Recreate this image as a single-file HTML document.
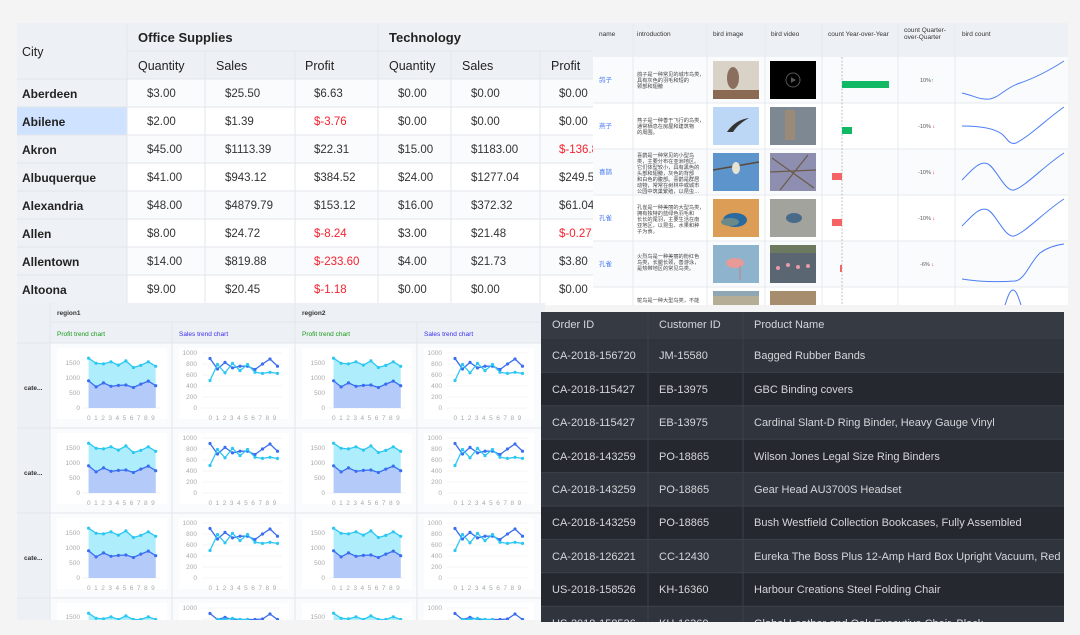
<!DOCTYPE html>
<html><head><meta charset="utf-8"><style>
html,body{margin:0;padding:0;background:#f4f4f5;width:1080px;height:635px;overflow:hidden;}
svg{display:block;font-family:"Liberation Sans","Noto Sans CJK SC",sans-serif;}
.h{font-size:12.5px;fill:#222;}
.hb{font-size:13px;fill:#222;font-weight:bold;}
.c{font-size:12px;fill:#222;font-weight:bold;}
.d{font-size:11.5px;fill:#333;}
.r{font-size:11.5px;fill:#f5222d;}
.t7{font-size:6.5px;fill:#333;}
.ax{font-size:6.5px;fill:#aaa;}
.k{font-size:11px;fill:#d4d6da;}
</style></head><body>
<svg width="1080" height="635" viewBox="0 0 1080 635" xmlns="http://www.w3.org/2000/svg">
<defs>
<marker id="mc" markerWidth="4" markerHeight="4" refX="2" refY="2" markerUnits="userSpaceOnUse"><circle cx="2" cy="2" r="1.6" fill="#2cc7f2"/></marker>
<marker id="md" markerWidth="4" markerHeight="4" refX="2" refY="2" markerUnits="userSpaceOnUse"><circle cx="2" cy="2" r="1.6" fill="#3a6ef0"/></marker>
<clipPath id="cp3"><rect x="17" y="303" width="528" height="317"/></clipPath>
<clipPath id="cp2"><rect x="593" y="23" width="475" height="282"/></clipPath>
<clipPath id="cp4"><rect x="541" y="312" width="523" height="310"/></clipPath>
<g id="pc">
<rect x="7" y="5" width="110" height="71" fill="#fff"/>
<line x1="32" y1="65" x2="110" y2="65" stroke="#e8e8e8" stroke-width="0.6"/>
<polygon points="38.6,65 38.6,15.2 46.1,20.3 53.5,20.9 61,18.8 68.4,22.1 75.9,17.9 83.4,24.5 90.8,22.4 98.3,18.8 105.7,23.3 105.7,65" fill="#aeeefc"/>
<polygon points="38.6,65 38.6,37.8 46.1,43.9 53.5,39.9 61,43.3 68.4,42.4 75.9,42 83.4,44.5 90.8,41.1 98.3,38.1 105.7,42.7 105.7,65" fill="#b4cbfa"/>
<polyline points="38.6,15.2 46.1,20.3 53.5,20.9 61,18.8 68.4,22.1 75.9,17.9 83.4,24.5 90.8,22.4 98.3,18.8 105.7,23.3" fill="none" stroke="#2cc7f2" stroke-width="1.3" marker-start="url(#mc)" marker-mid="url(#mc)" marker-end="url(#mc)"/>
<polyline points="38.6,37.8 46.1,43.9 53.5,39.9 61,43.3 68.4,42.4 75.9,42 83.4,44.5 90.8,41.1 98.3,38.1 105.7,42.7" fill="none" stroke="#3a6ef0" stroke-width="1.3" marker-start="url(#md)" marker-mid="url(#md)" marker-end="url(#md)"/>
</g>
<g id="sc">
<rect x="7" y="5" width="110" height="71" fill="#fff"/>
<g stroke="#eeeeee" stroke-width="0.6"><line x1="30" y1="10" x2="110" y2="10"/><line x1="30" y1="21" x2="110" y2="21"/><line x1="30" y1="32" x2="110" y2="32"/><line x1="30" y1="43" x2="110" y2="43"/><line x1="30" y1="54" x2="110" y2="54"/><line x1="30" y1="65" x2="110" y2="65"/></g>
<polyline points="38,15.5 45.5,26 53,19.4 60.5,24.9 68,23.2 75.5,23.2 83,26.5 90.5,21 98,16 105.5,23.2" fill="none" stroke="#3a6ef0" stroke-width="1.3" marker-start="url(#md)" marker-mid="url(#md)" marker-end="url(#md)"/>
<polyline points="38,37.5 45.5,21.5 53,29.8 60.5,20.4 68,27.6 75.5,21.5 83,29.3 90.5,30.4 98,29.3 105.5,30.4" fill="none" stroke="#2cc7f2" stroke-width="1.3" marker-start="url(#mc)" marker-mid="url(#mc)" marker-end="url(#mc)"/>
</g>
<g id="pc4">
<rect x="7" y="5" width="110" height="17" fill="#fff"/>
<polygon points="38.6,22 38.6,15.2 46.1,20.3 53.5,20.9 61,18.8 68.4,21.5 75.9,17.9 83.4,21.5 90.8,21.5 98.3,18.8 105.7,21.5 105.7,22" fill="#aeeefc"/>
<polyline points="38.6,15.2 46.1,20.3 53.5,20.9 61,18.8 68.4,21.5 75.9,17.9 83.4,21.5 90.8,21.5 98.3,18.8 105.7,21.5" fill="none" stroke="#2cc7f2" stroke-width="1.3" marker-start="url(#mc)" marker-mid="url(#mc)" marker-end="url(#mc)"/>
</g>
<g id="sc4">
<rect x="7" y="5" width="110" height="17" fill="#fff"/>
<g stroke="#eeeeee" stroke-width="0.6"><line x1="30" y1="10" x2="110" y2="10"/><line x1="30" y1="21" x2="110" y2="21"/></g>
<polyline points="38,15.5 45.5,21.5 53,19.4 60.5,21.5 68,21.5 75.5,21.5 83,21.5 90.5,21 98,16 105.5,21.5" fill="none" stroke="#3a6ef0" stroke-width="1.3" marker-start="url(#md)" marker-mid="url(#md)" marker-end="url(#md)"/>
<polyline points="45.5,21.5 53,21.5 60.5,20.4 68,21.5 75.5,21.5" fill="none" stroke="#2cc7f2" stroke-width="1.3" marker-start="url(#mc)" marker-mid="url(#mc)" marker-end="url(#mc)"/>
</g>
</defs>

<!-- PANEL 1 -->
<rect x="17" y="23" width="576" height="282" fill="#fff"/>
<rect x="17" y="23" width="576" height="56" fill="#edf1f5"/>
<rect x="17" y="79" width="110" height="226" fill="#eef2f6"/>
<rect x="17" y="107" width="110" height="28" fill="#cfe2ff"/>
<g fill="#fafbfc"><rect x="127" y="79" width="466" height="28"/><rect x="127" y="135" width="466" height="28"/><rect x="127" y="191" width="466" height="28"/><rect x="127" y="247" width="466" height="28"/></g>
<g stroke="#e2e6ec" stroke-width="1">
<line x1="127" y1="51" x2="593" y2="51"/>
<line x1="17" y1="79" x2="593" y2="79"/><line x1="17" y1="107" x2="593" y2="107"/><line x1="17" y1="135" x2="593" y2="135"/><line x1="17" y1="163" x2="593" y2="163"/><line x1="17" y1="191" x2="593" y2="191"/><line x1="17" y1="219" x2="593" y2="219"/><line x1="17" y1="247" x2="593" y2="247"/><line x1="17" y1="275" x2="593" y2="275"/>
<line x1="127" y1="23" x2="127" y2="305"/><line x1="378" y1="23" x2="378" y2="305"/>
<line x1="205" y1="51" x2="205" y2="305"/><line x1="295" y1="51" x2="295" y2="305"/><line x1="451" y1="51" x2="451" y2="305"/><line x1="540" y1="51" x2="540" y2="305"/>
</g>
<text class="h" x="22" y="56">City</text>
<text class="hb" x="138" y="42">Office Supplies</text>
<text class="hb" x="389" y="42">Technology</text>
<text class="h" x="138" y="70">Quantity</text><text class="h" x="216" y="70">Sales</text><text class="h" x="305" y="70">Profit</text>
<text class="h" x="389" y="70">Quantity</text><text class="h" x="462" y="70">Sales</text><text class="h" x="551" y="70">Profit</text>
<g class="c"><text x="22" y="98">Aberdeen</text><text x="22" y="126">Abilene</text><text x="22" y="154">Akron</text><text x="22" y="182">Albuquerque</text><text x="22" y="210">Alexandria</text><text x="22" y="238">Allen</text><text x="22" y="266">Allentown</text><text x="22" y="294">Altoona</text></g>
<g class="d">
<text x="147" y="97">$3.00</text><text x="225" y="97">$25.50</text><text x="314" y="97">$6.63</text><text x="398" y="97">$0.00</text><text x="471" y="97">$0.00</text><text x="559" y="97">$0.00</text>
<text x="147" y="125">$2.00</text><text x="225" y="125">$1.39</text><text class="r" x="314" y="125">$-3.76</text><text x="398" y="125">$0.00</text><text x="471" y="125">$0.00</text><text x="559" y="125">$0.00</text>
<text x="147" y="153">$45.00</text><text x="225" y="153">$1113.39</text><text x="314" y="153">$22.31</text><text x="398" y="153">$15.00</text><text x="471" y="153">$1183.00</text><text class="r" x="559" y="153">$-136.8</text>
<text x="147" y="181">$41.00</text><text x="225" y="181">$943.12</text><text x="314" y="181">$384.52</text><text x="398" y="181">$24.00</text><text x="471" y="181">$1277.04</text><text x="559" y="181">$249.5</text>
<text x="147" y="209">$48.00</text><text x="225" y="209">$4879.79</text><text x="314" y="209">$153.12</text><text x="398" y="209">$16.00</text><text x="471" y="209">$372.32</text><text x="559" y="209">$61.04</text>
<text x="147" y="237">$8.00</text><text x="225" y="237">$24.72</text><text class="r" x="314" y="237">$-8.24</text><text x="398" y="237">$3.00</text><text x="471" y="237">$21.48</text><text class="r" x="559" y="237">$-0.27</text>
<text x="147" y="265">$14.00</text><text x="225" y="265">$819.88</text><text class="r" x="314" y="265">$-233.60</text><text x="398" y="265">$4.00</text><text x="471" y="265">$21.73</text><text x="559" y="265">$3.80</text>
<text x="147" y="293">$9.00</text><text x="225" y="293">$20.45</text><text class="r" x="314" y="293">$-1.18</text><text x="398" y="293">$0.00</text><text x="471" y="293">$0.00</text><text x="559" y="293">$0.00</text>
</g>

<!-- PANEL 2 -->
<g clip-path="url(#cp2)">
<rect x="593" y="23" width="475" height="282" fill="#fff"/>
<rect x="593" y="23" width="475" height="34" fill="#edf1f5"/>
<g fill="#fafbfc"><rect x="593" y="57" width="475" height="46"/><rect x="593" y="149" width="475" height="46"/><rect x="593" y="241" width="475" height="46"/></g>
<g stroke="#e6e9ee"><line x1="593" y1="103" x2="1068" y2="103"/><line x1="593" y1="149" x2="1068" y2="149"/><line x1="593" y1="195" x2="1068" y2="195"/><line x1="593" y1="241" x2="1068" y2="241"/><line x1="593" y1="287" x2="1068" y2="287"/>
<line x1="633" y1="23" x2="633" y2="305"/><line x1="707" y1="23" x2="707" y2="305"/><line x1="765" y1="23" x2="765" y2="305"/><line x1="822" y1="23" x2="822" y2="305"/><line x1="898" y1="23" x2="898" y2="305"/><line x1="955" y1="23" x2="955" y2="305"/></g>
<g class="t7"><text x="599" y="36">name</text><text x="637" y="36">introduction</text><text x="713" y="36">bird image</text><text x="771" y="36">bird video</text><text x="828" y="36">count Year-over-Year</text><text x="904" y="32">count Quarter-</text><text x="904" y="39">over-Quarter</text><text x="962" y="36">bird count</text></g>
<g font-size="6.5" fill="#4a7cf0"><text x="599" y="82">鸽子</text><text x="599" y="128">燕子</text><text x="599" y="174">喜鹊</text><text x="599" y="220">孔雀</text><text x="599" y="266">孔雀</text></g>
<g font-size="5.2" fill="#444">
<text x="637" y="76">鸽子是一种常见的城市鸟类，</text><text x="637" y="82">具有灰色的羽毛和短的</text><text x="637" y="88">颈部和翅膀</text>
<text x="637" y="122">燕子是一种善于飞行的鸟类，</text><text x="637" y="128">通常栖息在房屋和建筑物</text><text x="637" y="134">的周围。</text>
<text x="637" y="157">喜鹊是一种常见的小型鸟</text><text x="637" y="163">类，主要分布在亚洲地区。</text><text x="637" y="169">它们体型较小，具有黑色的</text><text x="637" y="175">头部和翅膀，灰色的背部</text><text x="637" y="181">和白色的腹部。喜鹊是群居</text><text x="637" y="187">动物，常常在树林中或城市</text><text x="637" y="193">公园中筑巢繁殖，以昆虫…</text>
<text x="637" y="209">孔雀是一种美丽的大型鸟类，</text><text x="637" y="215">拥有独特的蓝绿色羽毛和</text><text x="637" y="221">长长的尾羽，主要生活在南</text><text x="637" y="227">亚地区，以昆虫、水果和种</text><text x="637" y="233">子为食。</text>
<text x="637" y="258">火烈鸟是一种美丽的粉红色</text><text x="637" y="264">鸟类，长腿长颈，善游泳，</text><text x="637" y="270">是热带地区的常见鸟类。</text>
<text x="637" y="302">鸵鸟是一种大型鸟类，不能</text>
</g>
<rect x="713" y="61" width="46" height="38" fill="#d9d2c6"/><ellipse cx="733" cy="78" rx="6" ry="11" fill="#8a6e5e"/><rect x="713" y="90" width="46" height="9" fill="#8a6a52"/>
<rect x="770" y="61" width="46" height="38" fill="#000"/><circle cx="793" cy="80" r="7" fill="none" stroke="#555" stroke-width="1"/><polygon points="791,77 791,83 796,80" fill="#555"/>
<rect x="713" y="107" width="46" height="38" fill="#bcd6f5"/><path d="M727,132 Q735,120 749,118 Q738,124 733,132 Z" fill="#333"/>
<rect x="770" y="107" width="46" height="38" fill="#7d8893"/><rect x="785" y="110" width="10" height="30" fill="#9a8a76"/>
<rect x="713" y="153" width="46" height="38" fill="#5d94cc"/><line x1="713" y1="170" x2="759" y2="162" stroke="#5a4a3a" stroke-width="1.5"/><ellipse cx="736" cy="168" rx="4" ry="6" fill="#e8e2d0"/>
<rect x="770" y="153" width="46" height="38" fill="#8e8fb0"/><path d="M772,158 L814,188 M780,190 L808,155 M770,172 L816,170" stroke="#6a5a48" stroke-width="1.2"/>
<rect x="713" y="199" width="46" height="38" fill="#dc9e56"/><ellipse cx="735" cy="220" rx="12" ry="7" fill="#2a6aa0"/><ellipse cx="730" cy="222" rx="9" ry="4" fill="#6a8a8a"/>
<rect x="770" y="199" width="46" height="38" fill="#a3a39d"/><ellipse cx="794" cy="218" rx="8" ry="5" fill="#4a6a8a"/>
<rect x="713" y="245" width="46" height="38" fill="#8db4cc"/><ellipse cx="735" cy="263" rx="9" ry="5" fill="#e89a98"/><line x1="740" y1="266" x2="740" y2="280" stroke="#c77" stroke-width="0.8"/>
<rect x="770" y="245" width="46" height="38" fill="#5a6672"/><rect x="770" y="245" width="46" height="8" fill="#6d7a60"/><g fill="#e99aa8"><circle cx="778" cy="268" r="2"/><circle cx="788" cy="265" r="2"/><circle cx="798" cy="267" r="2"/><circle cx="808" cy="266" r="2"/></g>
<rect x="713" y="291" width="46" height="14" fill="#b5ad95"/><rect x="713" y="291" width="46" height="5" fill="#8fa7b5"/>
<rect x="770" y="291" width="46" height="14" fill="#a58d6e"/>
<line x1="842" y1="57" x2="842" y2="305" stroke="#999" stroke-width="0.6" stroke-dasharray="2,1.5"/>
<rect x="842" y="81" width="47" height="7" fill="#12b965"/>
<rect x="842" y="127" width="10" height="7" fill="#12b965"/>
<rect x="832" y="173" width="10" height="7" fill="#f46464"/>
<rect x="832" y="219" width="10" height="7" fill="#f46464"/>
<rect x="840" y="265" width="2" height="7" fill="#f46464"/>
<g font-size="5.5" fill="#555"><text x="920" y="82">10%<tspan fill="#12b965">↑</tspan></text><text x="918" y="128">-10% <tspan fill="#f22">↓</tspan></text><text x="918" y="174">-10% <tspan fill="#f22">↓</tspan></text><text x="918" y="220">-10% <tspan fill="#f22">↓</tspan></text><text x="920" y="266">-6% <tspan fill="#f22">↓</tspan></text></g>
<g fill="none" stroke="#4d7ef2" stroke-width="1">
<path d="M962,93 C975,96 980,100 990,99 C1000,97 1005,88 1020,83 C1035,78 1050,70 1064,61"/>
<path d="M962,126 C980,126 995,128 1003,135 C1008,140 1010,145 1016,143 C1030,136 1048,118 1064,107"/>
<path d="M962,180 C972,170 980,160 988,164 C996,168 1005,192 1014,190 C1025,187 1045,165 1064,153"/>
<path d="M962,226 C972,216 980,206 988,210 C996,214 1005,238 1014,236 C1025,233 1045,211 1064,199"/>
<path d="M962,279 C980,282 1000,282 1015,281 C1025,280 1030,262 1040,253 C1048,247 1056,245 1064,244"/>
<path d="M1005,305 C1008,296 1010,290 1013,290 C1016,290 1018,296 1021,305"/>
</g>
</g>

<!-- PANEL 3 -->
<g clip-path="url(#cp3)">
<rect x="17" y="303" width="528" height="317" fill="#fafbfc"/>
<rect x="17" y="303" width="528" height="40" fill="#edf1f5"/>
<rect x="17" y="303" width="33" height="317" fill="#edf1f5"/>
<g stroke="#e2e6ec"><line x1="50" y1="322" x2="545" y2="322"/><line x1="17" y1="343" x2="545" y2="343"/><line x1="17" y1="428" x2="545" y2="428"/><line x1="17" y1="513" x2="545" y2="513"/><line x1="17" y1="598" x2="545" y2="598"/><line x1="50" y1="303" x2="50" y2="620"/><line x1="295" y1="303" x2="295" y2="620"/><line x1="172" y1="322" x2="172" y2="620"/><line x1="417" y1="322" x2="417" y2="620"/></g>
<g font-size="6.5" font-weight="bold" fill="#333"><text x="57" y="315">region1</text><text x="302" y="315">region2</text><text x="24" y="390">cate...</text><text x="24" y="475">cate...</text><text x="24" y="560">cate...</text></g>
<g font-size="6.5"><text x="57" y="336" fill="#1a9a1a">Profit trend chart</text><text x="179" y="336" fill="#3a2cf0">Sales trend chart</text><text x="302" y="336" fill="#1a9a1a">Profit trend chart</text><text x="424" y="336" fill="#3a2cf0">Sales trend chart</text></g>
<use href="#pc" x="50" y="343"/><use href="#sc" x="172" y="343"/><use href="#pc" x="295" y="343"/><use href="#sc" x="417" y="343"/>
<use href="#pc" x="50" y="428"/><use href="#sc" x="172" y="428"/><use href="#pc" x="295" y="428"/><use href="#sc" x="417" y="428"/>
<use href="#pc" x="50" y="513"/><use href="#sc" x="172" y="513"/><use href="#pc" x="295" y="513"/><use href="#sc" x="417" y="513"/>
<use href="#pc4" x="50" y="598"/><use href="#sc4" x="172" y="598"/><use href="#pc4" x="295" y="598"/><use href="#sc4" x="417" y="598"/>
<g class="ax" text-anchor="end">
<text x="80" y="365">1500</text><text x="80" y="380">1000</text><text x="80" y="395">500</text><text x="80" y="410">0</text>
<text x="325" y="365">1500</text><text x="325" y="380">1000</text><text x="325" y="395">500</text><text x="325" y="410">0</text>
<text x="80" y="450">1500</text><text x="80" y="465">1000</text><text x="80" y="480">500</text><text x="80" y="495">0</text>
<text x="325" y="450">1500</text><text x="325" y="465">1000</text><text x="325" y="480">500</text><text x="325" y="495">0</text>
<text x="80" y="535">1500</text><text x="80" y="550">1000</text><text x="80" y="565">500</text><text x="80" y="580">0</text>
<text x="325" y="535">1500</text><text x="325" y="550">1000</text><text x="325" y="565">500</text><text x="325" y="580">0</text>
<text x="80" y="619">1500</text><text x="325" y="619">1500</text>
<text x="197" y="355">1000</text><text x="197" y="366">800</text><text x="197" y="377">600</text><text x="197" y="388">400</text><text x="197" y="399">200</text><text x="197" y="410">0</text>
<text x="442" y="355">1000</text><text x="442" y="366">800</text><text x="442" y="377">600</text><text x="442" y="388">400</text><text x="442" y="399">200</text><text x="442" y="410">0</text>
<text x="197" y="440">1000</text><text x="197" y="451">800</text><text x="197" y="462">600</text><text x="197" y="473">400</text><text x="197" y="484">200</text><text x="197" y="495">0</text>
<text x="442" y="440">1000</text><text x="442" y="451">800</text><text x="442" y="462">600</text><text x="442" y="473">400</text><text x="442" y="484">200</text><text x="442" y="495">0</text>
<text x="197" y="525">1000</text><text x="197" y="536">800</text><text x="197" y="547">600</text><text x="197" y="558">400</text><text x="197" y="569">200</text><text x="197" y="580">0</text>
<text x="442" y="525">1000</text><text x="442" y="536">800</text><text x="442" y="547">600</text><text x="442" y="558">400</text><text x="442" y="569">200</text><text x="442" y="580">0</text>
<text x="197" y="610">1000</text><text x="442" y="610">1000</text>
</g>
<g class="ax" word-spacing="1.7">
<text x="87" y="420">0 1 2 3 4 5 6 7 8 9</text><text x="332" y="420">0 1 2 3 4 5 6 7 8 9</text><text x="208.5" y="420">0 1 2 3 4 5 6 7 8 9</text><text x="453.5" y="420">0 1 2 3 4 5 6 7 8 9</text>
<text x="87" y="505">0 1 2 3 4 5 6 7 8 9</text><text x="332" y="505">0 1 2 3 4 5 6 7 8 9</text><text x="208.5" y="505">0 1 2 3 4 5 6 7 8 9</text><text x="453.5" y="505">0 1 2 3 4 5 6 7 8 9</text>
<text x="87" y="590">0 1 2 3 4 5 6 7 8 9</text><text x="332" y="590">0 1 2 3 4 5 6 7 8 9</text><text x="208.5" y="590">0 1 2 3 4 5 6 7 8 9</text><text x="453.5" y="590">0 1 2 3 4 5 6 7 8 9</text>
</g>
</g>

<!-- PANEL 4 -->
<g clip-path="url(#cp4)">
<rect x="541" y="312" width="523" height="310" fill="#2b2e35"/>
<rect x="541" y="312" width="523" height="27" fill="#363a43"/>
<g fill="#30343c"><rect x="541" y="339" width="523" height="33.4"/><rect x="541" y="405.8" width="523" height="33.4"/><rect x="541" y="472.6" width="523" height="33.4"/><rect x="541" y="539.4" width="523" height="33.4"/><rect x="541" y="606.2" width="523" height="15.8"/></g>
<g fill="#25282e"><rect x="541" y="372.4" width="523" height="33.4"/><rect x="541" y="439.2" width="523" height="33.4"/><rect x="541" y="506" width="523" height="33.4"/><rect x="541" y="572.8" width="523" height="33.4"/></g>
<g stroke="#3d414a"><line x1="648" y1="312" x2="648" y2="622"/><line x1="743" y1="312" x2="743" y2="622"/>
<line x1="541" y1="372.4" x2="1064" y2="372.4"/><line x1="541" y1="405.8" x2="1064" y2="405.8"/><line x1="541" y1="439.2" x2="1064" y2="439.2"/><line x1="541" y1="472.6" x2="1064" y2="472.6"/><line x1="541" y1="506" x2="1064" y2="506"/><line x1="541" y1="539.4" x2="1064" y2="539.4"/><line x1="541" y1="572.8" x2="1064" y2="572.8"/><line x1="541" y1="606.2" x2="1064" y2="606.2"/></g>
<g class="k">
<text x="552" y="328">Order ID</text><text x="659" y="328">Customer ID</text><text x="754" y="328">Product Name</text>
<text x="552" y="359">CA-2018-156720</text><text x="659" y="359">JM-15580</text><text x="754" y="359">Bagged Rubber Bands</text>
<text x="552" y="393">CA-2018-115427</text><text x="659" y="393">EB-13975</text><text x="754" y="393">GBC Binding covers</text>
<text x="552" y="426">CA-2018-115427</text><text x="659" y="426">EB-13975</text><text x="754" y="426">Cardinal Slant-D Ring Binder, Heavy Gauge Vinyl</text>
<text x="552" y="460">CA-2018-143259</text><text x="659" y="460">PO-18865</text><text x="754" y="460">Wilson Jones Legal Size Ring Binders</text>
<text x="552" y="493">CA-2018-143259</text><text x="659" y="493">PO-18865</text><text x="754" y="493">Gear Head AU3700S Headset</text>
<text x="552" y="526">CA-2018-143259</text><text x="659" y="526">PO-18865</text><text x="754" y="526">Bush Westfield Collection Bookcases, Fully Assembled</text>
<text x="552" y="560">CA-2018-126221</text><text x="659" y="560">CC-12430</text><text x="754" y="560">Eureka The Boss Plus 12-Amp Hard Box Upright Vacuum, Red</text>
<text x="552" y="593">US-2018-158526</text><text x="659" y="593">KH-16360</text><text x="754" y="593">Harbour Creations Steel Folding Chair</text>
<text x="552" y="627">US-2018-158526</text><text x="659" y="627">KH-16360</text><text x="754" y="627">Global Leather and Oak Executive Chair, Black</text>
</g>
</g>
</svg>
</body></html>
